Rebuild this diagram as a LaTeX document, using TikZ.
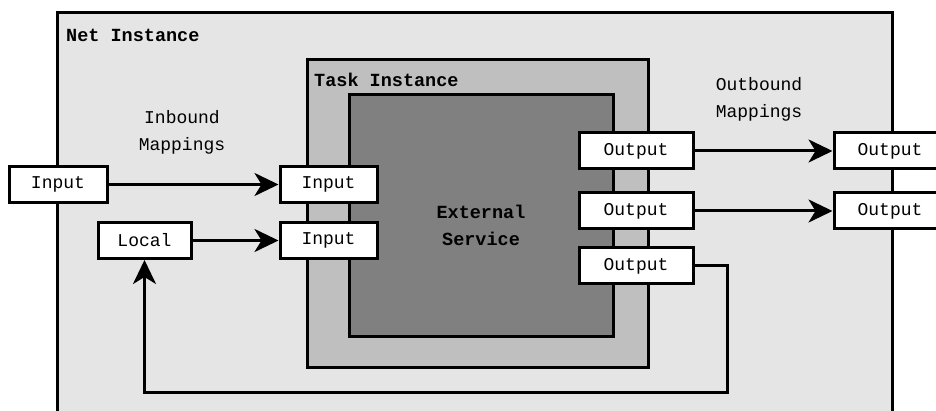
\documentclass[tikz,border=0pt]{standalone}
\usepackage{fontspec}
\setmonofont{Liberation Mono}
\usetikzlibrary{arrows.meta}

\tikzset{
  port/.style={rectangle, draw, fill=white, line width=3pt, minimum height=36pt,
    inner sep=0pt, font=\ttfamily\fontsize{18}{21}\selectfont},
  link/.style={line width=3pt, -{Stealth[length=24pt,width=23pt,inset=7pt]}},
  title/.style={font=\ttfamily\bfseries\fontsize{18.5}{21}\selectfont, inner sep=0pt},
  note/.style={font=\ttfamily\fontsize{18}{21}\selectfont, align=center, inner sep=0pt}
}

\begin{document}
\begin{tikzpicture}[x=1pt,y=-1pt]

      \useasboundingbox (0,0) rectangle (936,411);

      % net instance (open at the bottom)
      \fill[black!10] (57,13) rectangle (892,420);
      \draw[line width=3pt] (57,420) -- (57,13) -- (892,13) -- (892,420);
      \node[title, anchor=west] (net) at (66,35) {Net Instance};

      % task instance and service
      \draw[line width=3pt, fill=black!25] (307,60) rectangle (648,367);
      \node[title, anchor=west] (task) at (314,80) {Task Instance};
      \draw[line width=3pt, fill=black!50] (349,95) rectangle (613,336);
      \node[title, align=center] (svc) at (481,225) {External\\[6pt]Service};

      \node[note] (inmap)  at (182,132) {Inbound\\[6pt]Mappings};
      \node[note] (outmap) at (759,99)  {Outbound\\[6pt]Mappings};

      \begin{scope}[every node/.style={port}]
        \node[minimum width=98pt]  (1)  at (58,184.5) {Input};
        \node[minimum width=93pt]  (2)  at (144.5,240.5) {Local};
        \node[minimum width=97pt]  (3)  at (328.5,184.5) {Input};
        \node[minimum width=97pt]  (4)  at (328.5,240.5) {Input};
        \node[minimum width=114pt] (5)  at (636,151) {Output};
        \node[minimum width=114pt] (6)  at (636,211) {Output};
        \node[minimum width=114pt] (7)  at (636,266) {Output};
        \node[minimum width=112pt] (8)  at (890,151) {Output};
        \node[minimum width=112pt] (9)  at (890,211) {Output};
      \end{scope}

      \coordinate (c1) at (727,266);
      \coordinate (c2) at (727,392);
      \coordinate (c3) at (144.5,392);

      \path (1) edge[link] (3);
      \path (2) edge[link] (4);
      \path (5) edge[link] (8);
      \path (6) edge[link] (9);
      \draw[link] (7.east) -- (c1) -- (c2) -- (c3) -- (2.south);

    \end{tikzpicture}
\end{document}
